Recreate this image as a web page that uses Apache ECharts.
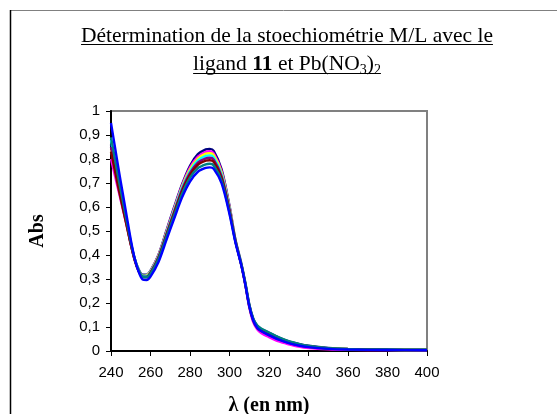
<!DOCTYPE html>
<html><head><meta charset="utf-8">
<script src="https://cdn.jsdelivr.net/npm/echarts@6/dist/echarts.min.js"></script>
<style>html,body{margin:0;padding:0;background:#fff}#c{width:557px;height:414px}</style>
</head><body><div id="c"></div>
<script>
var wavelengths = [240,242,244,246,248,250,252,254,256,258,260,264,268,272,276,280,284,288,290,292,296,300,303,306,308,310,312,314,316,320,325,330,335,340,350,360,380,400];
var sNavy    = [0.86,0.77,0.685,0.605,0.53,0.45,0.385,0.34,0.318,0.318,0.335,0.40,0.50,0.60,0.695,0.772,0.82,0.840,0.842,0.834,0.757,0.605,0.465,0.365,0.285,0.195,0.135,0.105,0.092,0.076,0.056,0.04,0.03,0.022,0.013,0.009,0.006,0.005];
var sMagenta = [0.80,0.73,0.66,0.59,0.52,0.445,0.38,0.335,0.312,0.314,0.332,0.398,0.495,0.595,0.69,0.764,0.81,0.830,0.832,0.824,0.749,0.60,0.462,0.358,0.275,0.182,0.12,0.09,0.075,0.058,0.04,0.028,0.018,0.012,0.007,0.005,0.004,0.003];
var sYellow  = [0.84,0.76,0.68,0.60,0.525,0.448,0.382,0.337,0.314,0.315,0.332,0.396,0.493,0.59,0.685,0.757,0.802,0.822,0.824,0.816,0.743,0.597,0.462,0.36,0.28,0.188,0.128,0.098,0.084,0.068,0.05,0.036,0.026,0.019,0.011,0.008,0.005,0.004];
var sCyan    = [0.88,0.79,0.70,0.615,0.535,0.452,0.384,0.338,0.313,0.313,0.33,0.393,0.489,0.586,0.68,0.75,0.794,0.813,0.815,0.807,0.736,0.593,0.461,0.36,0.28,0.19,0.13,0.10,0.087,0.071,0.052,0.037,0.027,0.019,0.011,0.008,0.005,0.004];
var sPurple  = [0.85,0.765,0.68,0.60,0.525,0.447,0.38,0.334,0.31,0.31,0.327,0.39,0.485,0.58,0.673,0.742,0.785,0.803,0.805,0.797,0.728,0.588,0.459,0.358,0.278,0.187,0.127,0.097,0.083,0.066,0.048,0.034,0.024,0.017,0.01,0.007,0.005,0.004];
var sMaroon  = [0.83,0.75,0.67,0.595,0.52,0.444,0.378,0.332,0.308,0.308,0.325,0.387,0.481,0.575,0.666,0.734,0.776,0.793,0.795,0.788,0.72,0.584,0.458,0.358,0.279,0.19,0.131,0.101,0.088,0.072,0.053,0.038,0.027,0.019,0.011,0.008,0.005,0.004];
var sTeal    = [0.89,0.80,0.71,0.625,0.54,0.455,0.384,0.335,0.309,0.307,0.322,0.382,0.474,0.566,0.655,0.722,0.762,0.778,0.780,0.773,0.709,0.577,0.455,0.36,0.282,0.194,0.136,0.107,0.094,0.077,0.057,0.041,0.03,0.021,0.012,0.008,0.006,0.005];
var sBlue    = [0.95,0.85,0.75,0.655,0.56,0.465,0.385,0.33,0.298,0.296,0.31,0.37,0.461,0.552,0.64,0.706,0.747,0.763,0.765,0.759,0.698,0.57,0.452,0.356,0.277,0.187,0.128,0.097,0.083,0.066,0.047,0.033,0.023,0.016,0.009,0.006,0.004,0.003];
var seriesList = [
  {name:'1', color:'#000080', data:sNavy},
  {name:'2', color:'#FF00FF', data:sMagenta},
  {name:'3', color:'#FFFF00', data:sYellow},
  {name:'4', color:'#00FFFF', data:sCyan},
  {name:'5', color:'#800080', data:sPurple},
  {name:'6', color:'#800000', data:sMaroon},
  {name:'7', color:'#008080', data:sTeal},
  {name:'8', color:'#0000FF', data:sBlue}
];
var xTicks = {min:240, max:400, interval:20};
var yTicks = {min:0, max:1, interval:0.1};
var titleLine1 = 'Détermination de la stoechiométrie M/L avec le';
var titleLine2 = [
  {t:'ligand ', k:'n'}, {t:'11', k:'b'}, {t:' et Pb(NO', k:'n'}, {t:'3', k:'s'}, {t:')', k:'n'}, {t:'2', k:'s'}
];
var xTitle = 'λ (en nm)';
var yTitle = 'Abs';

var serif = '"Liberation Serif","Times New Roman",serif';
var sans = '"Liberation Sans",Arial,sans-serif';
var fs = {n:21.5, b:21.5, s:14};
var fonts = {n:fs.n+'px '+serif, b:'bold '+fs.b+'px '+serif, s:fs.s+'px '+serif};
var cv = document.createElement('canvas').getContext('2d');
function tw(txt, f){ cv.font = f; return cv.measureText(txt).width; }
var ascRatio = 0.76; // baseline offset from top of text box

var cx = 287;
var base1 = 42, base2 = 70;
var g = [];
g.push({type:'line', shape:{x1:10,y1:10.5,x2:557,y2:10.5}, style:{stroke:'#808080', lineWidth:1}});
g.push({type:'line', shape:{x1:10.5,y1:10,x2:10.5,y2:414}, style:{stroke:'#000', lineWidth:1.5}});
var w1 = tw(titleLine1, fonts.n);
g.push({type:'text', x:cx - w1/2, y:base1 - ascRatio*fs.n, style:{text:titleLine1, font:fonts.n, fill:'#000', align:'left', verticalAlign:'top'}});
g.push({type:'line', shape:{x1:cx - w1/2, y1:base1+2.5, x2:cx + w1/2, y2:base1+2.5}, style:{stroke:'#000', lineWidth:1}});
var tot = 0;
titleLine2.forEach(function(p){ p.w = tw(p.t, fonts[p.k]); tot += p.w; });
var xs = cx - tot/2;
titleLine2.forEach(function(p){
  var b = p.k === 's' ? base2 + 4 : base2;
  g.push({type:'text', x:xs, y:b - ascRatio*fs[p.k], style:{text:p.t, font:fonts[p.k], fill:'#000', align:'left', verticalAlign:'top'}});
  xs += p.w;
});
g.push({type:'line', shape:{x1:cx - tot/2, y1:base2+3.5, x2:cx + tot/2, y2:base2+3.5}, style:{stroke:'#000', lineWidth:1}});

var chart = echarts.init(document.getElementById('c'), null, {renderer:'canvas'});
chart.setOption({
  animation:false,
  backgroundColor:'#fff',
  graphic:g,
  grid:{left:111, right:130, top:111, bottom:63, outerBoundsMode:'none', containLabel:false, show:true, borderColor:'#808080', borderWidth:2, backgroundColor:'transparent'},
  xAxis:{type:'value', min:xTicks.min, max:xTicks.max, interval:xTicks.interval,
    name:xTitle, nameLocation:'middle', nameGap:45,
    nameTextStyle:{fontFamily:serif, fontSize:20, fontWeight:'bold', color:'#000'},
    axisLine:{show:true, onZero:false, lineStyle:{color:'#000', width:2}},
    axisTick:{show:true, inside:false, length:5, lineStyle:{color:'#000', width:1}},
    axisLabel:{fontFamily:sans, fontSize:15, color:'#000', margin:14},
    splitLine:{show:false}},
  yAxis:{type:'value', min:yTicks.min, max:yTicks.max, interval:yTicks.interval,
    name:yTitle, nameLocation:'middle', nameGap:63,
    nameTextStyle:{fontFamily:serif, fontSize:20, fontWeight:'bold', color:'#000'},
    axisLine:{show:true, onZero:false, lineStyle:{color:'#000', width:2}},
    axisTick:{show:true, inside:false, length:5, lineStyle:{color:'#000', width:1}},
    axisLabel:{fontFamily:sans, fontSize:15, color:'#000', margin:11,
      formatter:function(v){return String(Math.round(v*10)/10).replace('.',',');}},
    splitLine:{show:false}},
  series: seriesList.map(function(s){
    return {type:'line', name:s.name, smooth:0.3, symbol:'none', clip:true,
      lineStyle:{color:s.color, width:2.4},
      data: wavelengths.map(function(w,i){return [w, s.data[i]];})};
  })
});
</script></body></html>
